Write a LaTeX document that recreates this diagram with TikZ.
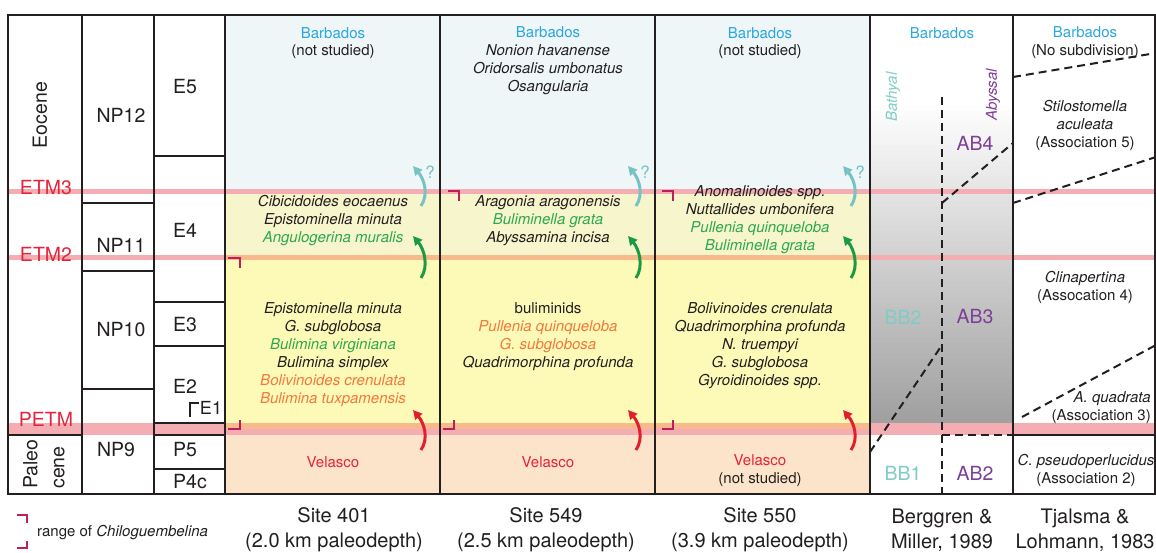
\documentclass[tikz,border=0pt]{standalone}
\usepackage{fontspec}
\setmainfont{TeX Gyre Heros}
\usetikzlibrary{arrows.meta,calc}
\definecolor{ink}{HTML}{231F20}
\definecolor{bblue}{HTML}{2AA7DF}
\definecolor{tgreen}{HTML}{2EA84F}
\definecolor{torange}{HTML}{F07A3E}
\definecolor{tred}{HTML}{E4243A}
\definecolor{tpurple}{HTML}{7D3F98}
\definecolor{tteal}{HTML}{7FCCC6}
\definecolor{acyan}{HTML}{76C2C4}
\definecolor{agreen}{HTML}{1B9A44}
\definecolor{ared}{HTML}{E21D2C}
\definecolor{brk}{HTML}{BE1E5A}
\definecolor{pinkband}{HTML}{F4AEB3}
\definecolor{orangeband}{HTML}{F8B98C}
\definecolor{zblue}{HTML}{EFF6F8}
\definecolor{zpale}{HTML}{F7F5CB}
\definecolor{zyellow}{HTML}{FDF9B7}
\definecolor{zpeach}{HTML}{FCE4CA}
\definecolor{shadegray}{HTML}{A0A0A0}
\begin{document}
\begin{tikzpicture}[x=1pt,y=-1pt,
  t/.style={inner sep=0pt, align=center, font=\fontsize{15}{18}\selectfont, text=ink},
  it/.style={inner sep=0pt, align=center, font=\fontsize{15}{18}\selectfont\itshape, text=ink},
  big/.style={inner sep=0pt, align=center, font=\fontsize{19.5}{24}\selectfont, text=ink},
  bot/.style={inner sep=0pt, align=center, font=\fontsize{20}{25}\selectfont, text=ink},
  grid/.style={line width=1.6pt, draw=ink},
  dsh/.style={line width=2pt, draw=ink, dash pattern=on 8pt off 5pt},
  turn/.style={line width=3pt, -{Triangle[length=9pt,width=9pt]}},
  brack/.style={line width=1.6pt, draw=brk},
  qm/.style={inner sep=0pt, font=\fontsize{17}{20}\selectfont, text=acyan}]
\useasboundingbox (0,0) rectangle (1156,552);
% ---- backgrounds
\fill[zblue] (225,15) rectangle (870,191);
\fill[zpale] (225,191) rectangle (870,257);
\fill[zyellow] (225,257) rectangle (870,423);
\fill[zpeach] (225,435) rectangle (870,494);
\foreach \i in {0,...,63}{
  \pgfmathsetmacro\pc{100*\i/63}
  \fill[shadegray!\pc!white] (870,100+\i*5.05) rectangle (1013,100+\i*5.05+5.6);
}
% ---- event bands
\fill[pinkband] (8,188.5) rectangle (1155,193.5);
\fill[pinkband] (8,254.5) rectangle (1155,259.5);
\fill[orangeband] (225,254.5) rectangle (870,259.5);
\fill[pinkband] (8,423) rectangle (1155,435);
\fill[orangeband] (225,423) rectangle (870,428.5);
% ---- grid
\draw[grid] (8,15) rectangle (1155,494);
\foreach \xx in {82,154,225,440,655,870,1013} \draw[grid] (\xx,15) -- (\xx,494);
\draw[grid] (8,435) -- (82,435);
\foreach \yy in {203,271,389} \draw[grid] (82,\yy) -- (154,\yy);
\foreach \yy in {156,302,346,423,435,469} \draw[grid] (154,\yy) -- (225,\yy);
\draw[grid] (1013,435) -- (1155,435);
% ---- left columns
\node[big, rotate=90] (eocene) at (40,115) {Eocene};
\node[big, text=tred] (etm3) at (46,188) {ETM3};
\node[big, text=tred] (etm2) at (46,254) {ETM2};
\node[big, text=tred] (petm) at (46,419) {PETM};
\node[big, rotate=90, align=left, font=\fontsize{19.5}{27}\selectfont] (paleo) at (44,464) {Paleo\\cene};
\node[big] (np12) at (121,115) {NP12};
\node[big] (np11) at (121,245) {NP11};
\node[big] (np10) at (121,330) {NP10};
\node[big] (np9) at (116,450) {NP9};
\node[big] (e5) at (185,87) {E5};
\node[big] (e4) at (185,230) {E4};
\node[big] (e3) at (185,325) {E3};
\node[big] (e2) at (185,386) {E2};
\node[inner sep=0pt, font=\fontsize{18}{20}\selectfont, text=ink] (e1) at (211,408) {E1};
\draw[line width=1.3pt, draw=ink] (190,417) -- (190,403) -- (199,403);
\node[big] (p5) at (185,450) {P5};
\node[big] (p4c) at (190,482) {P4c};
% ---- Site 401
\node[t, text=bblue] (b401) at (333,33) {Barbados};
\node[t] (ns401) at (333,52) {(not studied)};
\node[it] (u401) at (333,221) {Cibicidoides eocaenus\\Epistominella minuta\\\textcolor{tgreen}{Angulogerina muralis}};
\node[it] (l401) at (333,355) {Epistominella minuta\\G. subglobosa\\\textcolor{tgreen}{Bulimina virginiana}\\Bulimina simplex\\\textcolor{torange}{Bolivinoides crenulata}\\\textcolor{torange}{Bulimina tuxpamensis}};
\node[t, text=tred] (v401) at (333,462) {Velasco};
% ---- Site 549
\node[t] (top549) at (548,60.5) {\textcolor{bblue}{Barbados}\\\textit{Nonion havanense}\\\textit{Oridorsalis umbonatus}\\\textit{Osangularia}};
\node[it] (u549) at (548,221) {Aragonia aragonensis\\\textcolor{tgreen}{Buliminella grata}\\Abyssamina incisa};
\node[it] (l549) at (548,337) {\upshape buliminids\\\textcolor{torange}{Pullenia quinqueloba}\\\textcolor{torange}{G. subglobosa}\\Quadrimorphina profunda};
\node[t, text=tred] (v549) at (548,462) {Velasco};
% ---- Site 550
\node[t, text=bblue] (b550) at (760,33) {Barbados};
\node[t] (ns550) at (760,52) {(not studied)};
\node[it] (u550) at (760,220) {Anomalinoides spp.\\Nuttallides umbonifera\\\textcolor{tgreen}{Pullenia quinqueloba}\\\textcolor{tgreen}{Buliminella grata}};
\node[it] (l550) at (760,346) {Bolivinoides crenulata\\Quadrimorphina profunda\\N. truempyi\\G. subglobosa\\Gyroidinoides spp.};
\node[t] (v550) at (760,471) {\textcolor{tred}{Velasco}\\(not studied)};
% ---- turnover arrows
\foreach \L/\n in {225/a,440/b,655/c}{
  \coordinate (ct\n) at (\L+196,206); \coordinate (ch\n) at (\L+188,166);
  \coordinate (gt\n) at (\L+196,278); \coordinate (gh\n) at (\L+188,236);
  \coordinate (rt\n) at (\L+196,450); \coordinate (rh\n) at (\L+188,410);
  \draw[turn, acyan] (ct\n) .. controls ($(ct\n)+(8,-12)$) and ($(ch\n)+(11,13)$) .. (ch\n);
  \draw[turn, agreen] (gt\n) .. controls ($(gt\n)+(8,-12)$) and ($(gh\n)+(11,13)$) .. (gh\n);
  \draw[turn, ared] (rt\n) .. controls ($(rt\n)+(8,-12)$) and ($(rh\n)+(11,13)$) .. (rh\n);
  \node[qm] (q\n) at (\L+205,172) {?};
}
% ---- Chiloguembelina ranges
\draw[brack] (228,258) -- (240,258) -- (240,268);
\draw[brack] (228,429) -- (240,429) -- (240,420);
\draw[brack] (448,191) -- (459,191) -- (459,201);
\draw[brack] (443,429) -- (454,429) -- (454,420);
\draw[brack] (662,191) -- (673,191) -- (673,201);
\draw[brack] (662,429) -- (673,429) -- (673,420);
% ---- Berggren & Miller
\node[t, text=bblue] (b_bm) at (942,33) {Barbados};
\node[it, text=tteal, rotate=90] (bathyal) at (893,97) {Bathyal};
\node[it, text=tpurple, rotate=90] (abyssal) at (993,95) {Abyssal};
\draw[dsh] (942,97) -- (942,494);
\draw[dsh] (942,203) -- (1013,143);
\draw[dsh] (870,452) -- (942,345);
\draw[dsh] (942,435) -- (1013,435);
\node[big, text=tpurple] (ab4) at (975,143) {AB4};
\node[big, text=tteal] (bb2) at (903,317) {BB2};
\node[big, text=tpurple] (ab3) at (975,317) {AB3};
\node[big, text=tteal] (bb1) at (903,473) {BB1};
\node[big, text=tpurple] (ab2) at (975,473) {AB2};
% ---- Tjalsma & Lohmann
\draw[dsh] (1013,77) -- (1156,53);
\draw[dsh] (1013,203) -- (1156,157);
\draw[dsh] (1022,417) -- (1156,345);
\node[t] (b_tl) at (1085,42.5) {\textcolor{bblue}{Barbados}\\(No subdivision)};
\node[t] (ass5) at (1085,125) {\textit{Stilostomella}\\\textit{aculeata}\\(Association 5)};
\node[t] (ass4) at (1085,287) {\textit{Clinapertina}\\(Assocation 4)};
\node[t, anchor=east, align=right] (ass3) at (1151,407.5) {\textit{A. quadrata}\\(Association 3)};
\node[t] (ass2) at (1086,470) {\textit{C. pseudoperlucidus}\\(Association 2)};
% ---- bottom labels
\node[bot] (s401) at (334,530) {Site 401\\(2.0 km paleodepth)};
\node[bot] (s549) at (546,530) {Site 549\\(2.5 km paleodepth)};
\node[bot] (s550) at (760,530) {Site 550\\(3.9 km paleodepth)};
\node[bot] (sbm) at (942,530) {Berggren \&\\Miller, 1989};
\node[bot] (stl) at (1085,530) {Tjalsma \&\\Lohmann, 1983};
% ---- legend
\draw[brack] (17,515) -- (27,515) -- (27,523);
\draw[brack] (17,548) -- (27,548) -- (27,541);
\node[t, anchor=west] (leg) at (37,533) {range of \textit{Chiloguembelina}};
\end{tikzpicture}
\end{document}
